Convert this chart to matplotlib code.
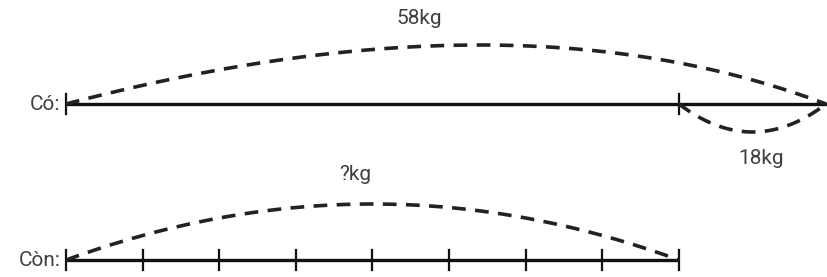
import matplotlib
matplotlib.use("Agg")
import matplotlib.pyplot as plt
import numpy as np

# Data
row_labels = ["Có:", "Còn:"]
total_label = "58kg"
part_label = "18kg"
unknown_label = "?kg"
remaining_segments = 8

# Layout (pixel coordinates)
W, H = 828, 277
x0 = 66
x_split = 679
x_end = 826
y_top = 104
y_bot = 260

fig = plt.figure(figsize=(W / 100, H / 100), dpi=100)
ax = fig.add_axes([0, 0, 1, 1])
ax.set_xlim(0, W)
ax.set_ylim(H, 0)
ax.axis("off")

line_kw = dict(color="#111111", lw=2.4, solid_capstyle="butt")
dash_kw = dict(color="#222222", lw=2.6, linestyle=(0, (3.8, 2.6)))
txt_kw = dict(color="#404040", fontsize=15, family="Roboto")


def bezier(p0, c, p1, n=200):
    t = np.linspace(0, 1, n)
    x = (1 - t) ** 2 * p0[0] + 2 * (1 - t) * t * c[0] + t ** 2 * p1[0]
    y = (1 - t) ** 2 * p0[1] + 2 * (1 - t) * t * c[1] + t ** 2 * p1[1]
    return x, y


def tick(x, y, h=10):
    ax.plot([x, x], [y - h, y + h], color="#111111", lw=1.6)


# Top row
ax.plot([x0, x_end + 2], [y_top, y_top], **line_kw)
tick(x0, y_top)
tick(x_split, y_top)
bx, by = bezier((x0, y_top), (514, -14), (x_end, y_top))
ax.plot(bx, by, **dash_kw)
bx, by = bezier((x_split, y_top), ((x_split + x_end) / 2, 160), (x_end, y_top))
ax.plot(bx, by, **dash_kw)
ax.text(419, 19, total_label, ha="center", va="center", **txt_kw)
ax.text(761, 158, part_label, ha="center", va="center", **txt_kw)
ax.text(60, y_top, row_labels[0], ha="right", va="center", **txt_kw)

# Bottom row
ax.plot([x0, x_split], [y_bot, y_bot], **line_kw)
for xt in np.linspace(x0, x_split, remaining_segments + 1):
    tick(xt, y_bot)
bx, by = bezier((x0, y_bot), ((x0 + x_split) / 2, 148), (x_split, y_bot))
ax.plot(bx, by, **dash_kw)
ax.text(355, 175, unknown_label, ha="center", va="center", **txt_kw)
ax.text(61, y_bot, row_labels[1], ha="right", va="center", **txt_kw)

fig.savefig("out.png", dpi=100, facecolor="white")
